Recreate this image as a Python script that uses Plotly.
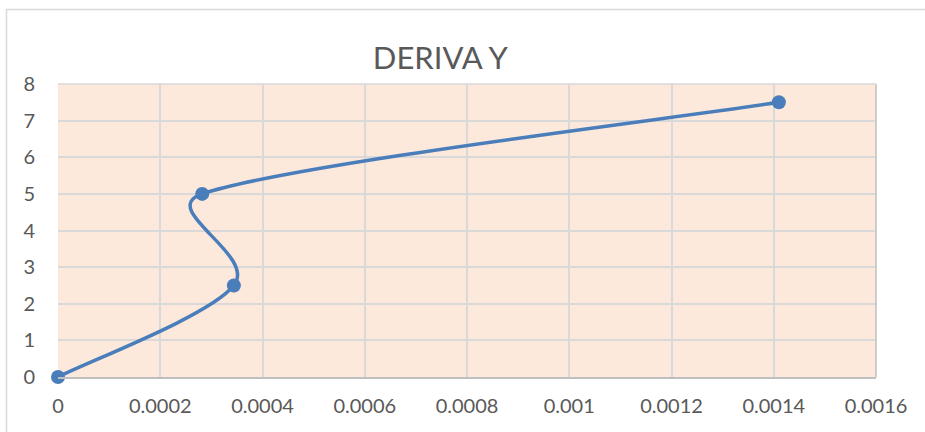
import math
import plotly.graph_objects as go

# Drift values per storey height
deriva = [0.0, 0.000344, 0.000282, 0.00141]
altura = [0.0, 2.5, 5.0, 7.5]

x_ticks = [0, 0.0002, 0.0004, 0.0006, 0.0008, 0.001, 0.0012, 0.0014, 0.0016]
x_labels = ["0", "0.0002", "0.0004", "0.0006", "0.0008", "0.001", "0.0012", "0.0014", "0.0016"]
y_ticks = [0, 1, 2, 3, 4, 5, 6, 7, 8]

X_RANGE = [0, 0.0016]
Y_RANGE = [0, 8]
W, H = 925, 432
M = dict(l=58, r=49, t=84, b=55)
PLOT_W = W - M["l"] - M["r"]
PLOT_H = H - M["t"] - M["b"]

line_color = "#4a7ebb"
grid_color = "#d9d9d9"
text_color = "#595959"
font_family = "Lato, Open Sans, sans-serif"


def smooth_path(xs, ys):
    """Office-style smoothed line: cubic Bezier segments with Catmull-Rom
    tangents (1/6) whose handles are capped at half the segment chord,
    computed in screen proportions and returned in data coordinates."""
    sx = PLOT_W / (X_RANGE[1] - X_RANGE[0])
    sy = PLOT_H / (Y_RANGE[1] - Y_RANGE[0])
    pts = [(x * sx, y * sy) for x, y in zip(xs, ys)]
    n = len(pts)

    def dist(a, b):
        return math.hypot(a[0] - b[0], a[1] - b[1])

    def fmt(p):
        return f"{p[0] / sx},{p[1] / sy}"

    path = "M " + fmt(pts[0])
    for i in range(n - 1):
        p0 = pts[max(i - 1, 0)]
        p1 = pts[i]
        p2 = pts[i + 1]
        p3 = pts[min(i + 2, n - 1)]
        d12 = dist(p1, p2)
        t1 = (p2[0] - p0[0], p2[1] - p0[1])
        t2 = (p3[0] - p1[0], p3[1] - p1[1])
        f1 = 1 / 6
        f2 = 1 / 6
        d02 = dist(p0, p2)
        d13 = dist(p1, p3)
        if d02 * f1 > d12 / 2:
            f1 = d12 / (2 * d02)
        if d13 * f2 > d12 / 2:
            f2 = d12 / (2 * d13)
        c1 = (p1[0] + t1[0] * f1, p1[1] + t1[1] * f1)
        c2 = (p2[0] - t2[0] * f2, p2[1] - t2[1] * f2)
        path += " C " + fmt(c1) + " " + fmt(c2) + " " + fmt(p2)
    return path


fig = go.Figure()
fig.add_trace(go.Scatter(
    x=deriva, y=altura,
    mode="markers",
    marker=dict(color=line_color, size=14),
    showlegend=False,
    cliponaxis=False,
))

fig.update_layout(
    width=W, height=H,
    margin=M,
    paper_bgcolor="white",
    plot_bgcolor="#fde9db",
    title=dict(text="DERIVA Y", x=0.476, xanchor="center", y=1 - 58 / H, yanchor="middle",
               font=dict(family=font_family, size=31, color=text_color)),
    font=dict(family=font_family, size=20, color=text_color),
    xaxis=dict(
        range=X_RANGE, tickvals=x_ticks, ticktext=x_labels,
        showgrid=True, gridcolor=grid_color, gridwidth=1.5,
        showline=True, linecolor="#bfbfbf", linewidth=1.5,
        zeroline=False, ticks="", ticklabelstandoff=10,
    ),
    yaxis=dict(
        range=Y_RANGE, tickvals=y_ticks,
        showgrid=True, gridcolor=grid_color, gridwidth=1.5,
        showline=False, zeroline=False, ticks="", ticklabelstandoff=22,
    ),
    shapes=[
        # chart frame
        dict(type="rect", xref="paper", yref="paper",
             x0=-51.5 / PLOT_W, x1=1 + 60 / PLOT_W, y0=-80 / PLOT_H, y1=1 + 74.5 / PLOT_H,
             line=dict(color="#d9d9d9", width=1.5), layer="below"),
        # right and top edges of the plot area
        dict(type="line", xref="paper", yref="paper",
             x0=1, x1=1, y0=0, y1=1,
             line=dict(color="#bfbfbf", width=1.5)),
        dict(type="line", xref="paper", yref="paper",
             x0=0, x1=1, y0=1, y1=1,
             line=dict(color="#d9d9d9", width=1.5)),
        # smoothed series line
        dict(type="path", xref="x", yref="y",
             path=smooth_path(deriva, altura),
             line=dict(color=line_color, width=3.5), layer="between"),
    ],
)

fig.write_html("out.html")
